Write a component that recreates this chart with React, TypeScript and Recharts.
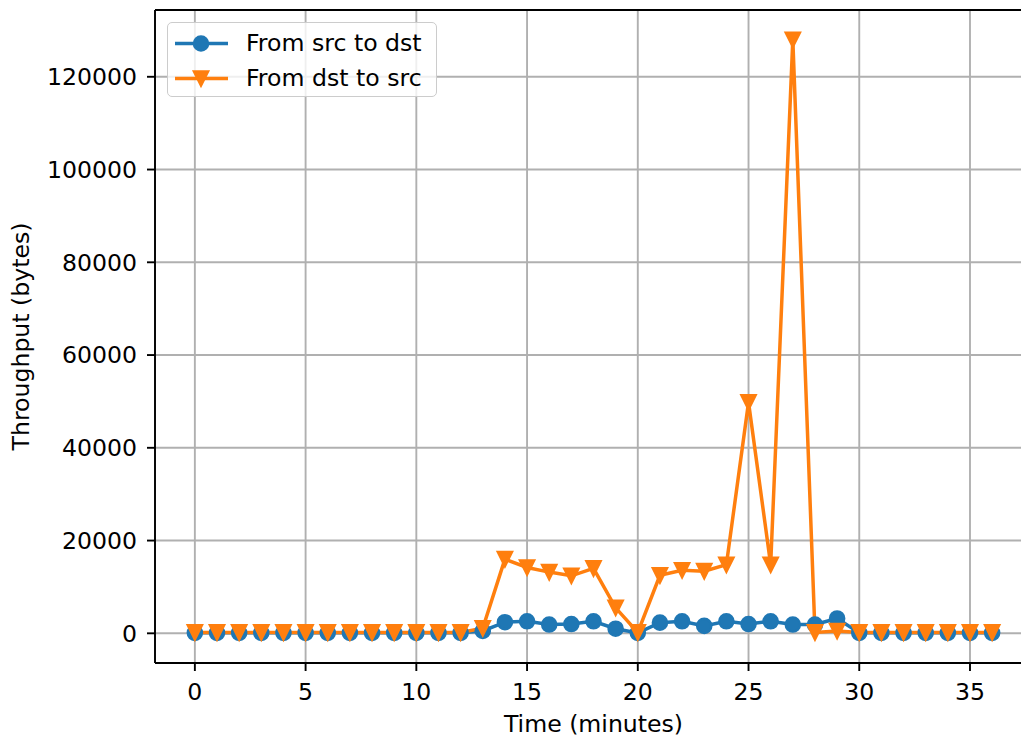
import React from "react";
import {
  LineChart,
  Line,
  CartesianGrid,
  XAxis,
  YAxis,
  Legend,
  ReferenceLine,
} from "recharts";

// minutes on the x axis
const minutes = [
  0, 1, 2, 3, 4, 5, 6, 7, 8, 9, 10, 11, 12, 13, 14, 15, 16, 17, 18, 19, 20, 21,
  22, 23, 24, 25, 26, 27, 28, 29, 30, 31, 32, 33, 34, 35, 36,
];

// throughput in bytes
const srcToDst = [
  100, 100, 100, 100, 100, 100, 100, 100, 100, 100, 100, 100, 100, 500, 2400,
  2600, 1900, 2000, 2600, 1000, 100, 2300, 2600, 1600, 2600, 2000, 2600, 1900,
  1900, 3200, 100, 100, 100, 100, 100, 100, 100,
];
const dstToSrc = [
  200, 200, 200, 200, 200, 200, 200, 200, 200, 200, 200, 200, 200, 1100, 16000,
  14200, 13200, 12400, 14000, 5500, 200, 12500, 13600, 13400, 14800, 49800,
  14800, 128000, 200, 500, 200, 200, 200, 200, 200, 200, 200,
];

const xTicks = [0, 5, 10, 15, 20, 25, 30, 35];
const yTicks = [0, 20000, 40000, 60000, 80000, 100000, 120000];
const xDomain: [number, number] = [-1.8, 37.8];
const yDomain: [number, number] = [-6400, 134400];

const seriesNames = { src: "From src to dst", dst: "From dst to src" };

const BLUE = "#1f77b4";
const ORANGE = "#ff7f0e";
const FONT = "'DejaVu Sans', sans-serif";
const FS = 23.6;

const data = minutes.map((t, i) => ({
  t,
  src: srcToDst[i],
  dst: dstToSrc[i],
}));

const CircleDot = (props: any) => {
  const { cx, cy, index } = props;
  if (cx == null || cy == null) return <g key={`c-${index}`} />;
  return (
    <circle key={`c-${index}`} cx={cx} cy={cy} r={7.1} fill={BLUE} stroke={BLUE} strokeWidth={2.4} />
  );
};

const TriangleDot = (props: any) => {
  const { cx, cy, index } = props;
  if (cx == null || cy == null) return <g key={`v-${index}`} />;
  const s = 7.1;
  return (
    <path
      key={`v-${index}`}
      d={`M${cx - s},${cy - s}L${cx + s},${cy - s}L${cx},${cy + s}Z`}
      fill={ORANGE}
      stroke={ORANGE}
      strokeWidth={2.4}
      strokeLinejoin="miter"
    />
  );
};

const LegendBox = () => {
  const rows = [
    { key: "src", color: BLUE },
    { key: "dst", color: ORANGE },
  ];
  return (
    <div
      style={{
        width: 268,
        height: 73,
        border: "1.9px solid #cccccc",
        borderRadius: 5,
        background: "rgba(255,255,255,0.8)",
        fontFamily: FONT,
        fontSize: FS,
        color: "#000",
        position: "relative",
      }}
    >
      {rows.map((r, i) => (
        <div
          key={r.key}
          style={{
            position: "absolute",
            left: 0,
            top: 3 + i * 35,
            height: 35,
            display: "flex",
            alignItems: "center",
            whiteSpace: "nowrap",
          }}
        >
          <svg width={78} height={35} style={{ display: "block" }}>
            <line x1={7} y1={17.5} x2={60} y2={17.5} stroke={r.color} strokeWidth={3.5} />
            {r.key === "src" ? (
              <CircleDot cx={33} cy={17.5} index={0} />
            ) : (
              <TriangleDot cx={33} cy={17.5} index={0} />
            )}
          </svg>
          <span style={{ lineHeight: "35px" }}>
            {seriesNames[r.key as "src" | "dst"]}
          </span>
        </div>
      ))}
    </div>
  );
};

const YTitle = (props: any) => {
  const vb = props.viewBox;
  const x = vb.x + 29;
  const y = vb.y + vb.height / 2;
  return (
    <text
      x={x}
      y={y}
      transform={`rotate(-90, ${x}, ${y})`}
      textAnchor="middle"
      fontFamily={FONT}
      fontSize={FS}
      fill="#000"
    >
      Throughput (bytes)
    </text>
  );
};

const XTitle = (props: any) => {
  const vb = props.viewBox;
  return (
    <text
      x={vb.x + vb.width / 2}
      y={vb.y + 69}
      textAnchor="middle"
      fontFamily={FONT}
      fontSize={FS}
      fill="#000"
    >
      Time (minutes)
    </text>
  );
};

export default function App() {
  const tickStyle = { fill: "#000", fontSize: FS, fontFamily: FONT };
  return (
    <div
      style={{
        position: "absolute",
        left: 0,
        top: 0,
        width: 1021,
        height: 738,
        overflow: "hidden",
        background: "#fff",
      }}
    >
      <LineChart
        width={1032}
        height={738}
        data={data}
        margin={{ top: 10, right: 0, bottom: 0, left: 0 }}
      >
        <CartesianGrid stroke="#b0b0b0" strokeWidth={1.9} />
        <XAxis
          dataKey="t"
          type="number"
          domain={xDomain}
          ticks={xTicks}
          height={75}
          tickSize={8}
          tickMargin={12}
          tick={tickStyle}
          axisLine={{ stroke: "#000", strokeWidth: 1.9 }}
          tickLine={{ stroke: "#000", strokeWidth: 1.9 }}
          label={<XTitle />}
        />
        <YAxis
          type="number"
          domain={yDomain}
          ticks={yTicks}
          width={155}
          tickSize={8}
          tickMargin={10}
          tick={tickStyle}
          axisLine={{ stroke: "#000", strokeWidth: 1.9 }}
          tickLine={{ stroke: "#000", strokeWidth: 1.9 }}
          label={<YTitle />}
        />
        <ReferenceLine y={yDomain[1]} stroke="#000" strokeWidth={1.9} />
        <Line
          dataKey="src"
          name={seriesNames.src}
          stroke={BLUE}
          strokeWidth={3.5}
          dot={CircleDot}
          activeDot={false}
          isAnimationActive={false}
        />
        <Line
          dataKey="dst"
          name={seriesNames.dst}
          stroke={ORANGE}
          strokeWidth={3.5}
          dot={TriangleDot}
          activeDot={false}
          isAnimationActive={false}
        />
        <Legend
          layout="vertical"
          align="center"
          verticalAlign="middle"
          content={<LegendBox />}
          wrapperStyle={{ left: 167, top: 22, width: "auto", height: "auto" }}
        />
      </LineChart>
    </div>
  );
}
